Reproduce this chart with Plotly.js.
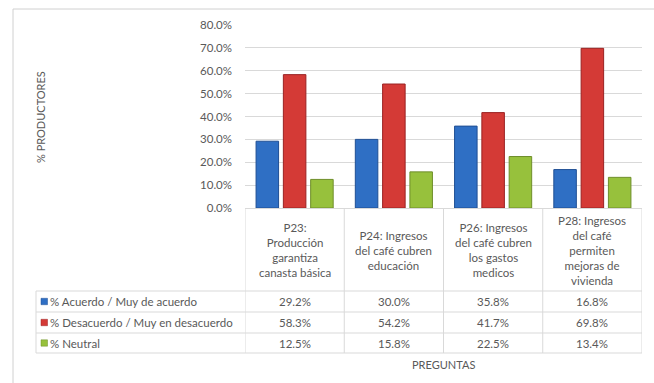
<!DOCTYPE html>
<html>
<head>
<meta charset="utf-8">
<script src="https://cdn.plot.ly/plotly-3.0.1.min.js"></script>
<style>html,body{margin:0;padding:0;background:#fff;}#chart{width:654px;height:383px;}</style>
</head>
<body>
<div id="chart"></div>
<script>
// ---- data ----
const categories = [
  "P23:<br>Producción<br>garantiza<br>canasta básica",
  "P24: Ingresos<br>del café cubren<br>educación",
  "P26: Ingresos<br>del café cubren<br>los gastos<br>medicos",
  "P28: Ingresos<br>del café<br>permiten<br>mejoras de<br>vivienda"
];
const seriesNames = ["% Acuerdo / Muy de acuerdo", "% Desacuerdo / Muy en desacuerdo", "% Neutral"];
const acuerdo = [29.2, 30.0, 35.8, 16.8];
const desacuerdo = [58.3, 54.2, 41.7, 69.8];
const neutral = [12.5, 15.8, 22.5, 13.4];
const yTitle = "% PRODUCTORES";
const xTitle = "PREGUNTAS";

// ---- styling ----
const colors = ["#2f6fc4", "#d43a36", "#97c13c"];
const edges = ["#1f4f94", "#9a2222", "#6e8e2a"];
const font = "Lato, 'Open Sans', sans-serif";
const txt = "#595959";
const grid = "#d9d9d9";

const W = 654, H = 383, L = 245, R = 642, T = 25, B = 208;
const X = px => (px - L) / (R - L);
const Y = py => (B - py) / (B - T);

const series = [acuerdo, desacuerdo, neutral];
const idx = categories.map((c, i) => i);

const traces = series.map((vals, s) => ({
  type: "bar",
  x: idx,
  y: vals,
  name: seriesNames[s],
  marker: {color: colors[s], line: {color: edges[s], width: 1}},
  hoverinfo: "skip",
  showlegend: false
}));

const shapes = [];
const annotations = [];
const line = {color: grid, width: 1};

// outer frame
shapes.push({type: "rect", xref: "paper", yref: "paper", x0: X(13), y0: Y(9), x1: X(700), y1: Y(420), line: {color: "#d0d0d0", width: 1}});

// table row lines
const rowTops = [291, 312, 333, 353];
rowTops.forEach(py => shapes.push({type: "line", xref: "paper", yref: "paper", x0: X(36), x1: 1, y0: Y(py), y1: Y(py), line}));
// legend column left border
shapes.push({type: "line", xref: "paper", yref: "paper", x0: X(36), x1: X(36), y0: Y(291), y1: Y(353), line});
// column boundaries
for (let i = 0; i <= categories.length; i++) {
  shapes.push({type: "line", xref: "x", yref: "paper", x0: i - 0.5, x1: i - 0.5, y0: 0, y1: Y(353), line});
}

// header texts
categories.forEach((c, i) => annotations.push({
  xref: "x", yref: "paper", x: i, y: Y(250), text: c, showarrow: false,
  font: {family: font, size: 11.5, color: txt}, align: "center", yanchor: "middle"
}));

// rows
const rowCenters = [301.5, 322.5, 343];
series.forEach((vals, s) => {
  const yc = Y(rowCenters[s]);
  shapes.push({type: "rect", xref: "paper", yref: "paper", x0: X(41), x1: X(47.5), y0: Y(rowCenters[s] - 3.2), y1: Y(rowCenters[s] + 3.2), fillcolor: colors[s], line: {color: edges[s], width: 0.5}});
  annotations.push({xref: "paper", yref: "paper", x: X(48), y: yc, xanchor: "left", yanchor: "middle", text: seriesNames[s], showarrow: false, font: {family: font, size: 11.5, color: txt}});
  vals.forEach((v, i) => annotations.push({
    xref: "x", yref: "paper", x: i, y: yc, text: v.toFixed(1) + "%", showarrow: false, yanchor: "middle",
    font: {family: font, size: 11.5, color: txt}
  }));
});

annotations.push({xref: "paper", yref: "paper", x: 0.5, y: Y(364), text: xTitle, showarrow: false, yanchor: "middle", font: {family: font, size: 11, color: txt}});
annotations.push({xref: "paper", yref: "paper", x: X(40), y: Y(117), text: yTitle, showarrow: false, textangle: -90, xanchor: "center", yanchor: "middle", font: {family: font, size: 11, color: txt}});

const layout = {
  width: W, height: H, autosize: false,
  margin: {l: L, r: W - R, t: T, b: H - B, pad: 0},
  paper_bgcolor: "#fff", plot_bgcolor: "#fff",
  barmode: "group", bargap: 0.175, bargroupgap: 0.175,
  xaxis: {range: [-0.5, categories.length - 0.5], showticklabels: false, showgrid: false, zeroline: false, showline: false, fixedrange: true},
  yaxis: {range: [0, 80], dtick: 10, tick0: 0, ticksuffix: "%", tickformat: ".1f", gridcolor: grid, gridwidth: 1,
          zeroline: true, zerolinecolor: grid, zerolinewidth: 1, showline: false, ticks: "", ticklabelstandoff: 12,
          tickfont: {family: font, size: 11.5, color: txt}, fixedrange: true},
  shapes, annotations, showlegend: false
};

Plotly.newPlot("chart", traces, layout, {staticPlot: true, displayModeBar: false});
</script>
</body>
</html>
